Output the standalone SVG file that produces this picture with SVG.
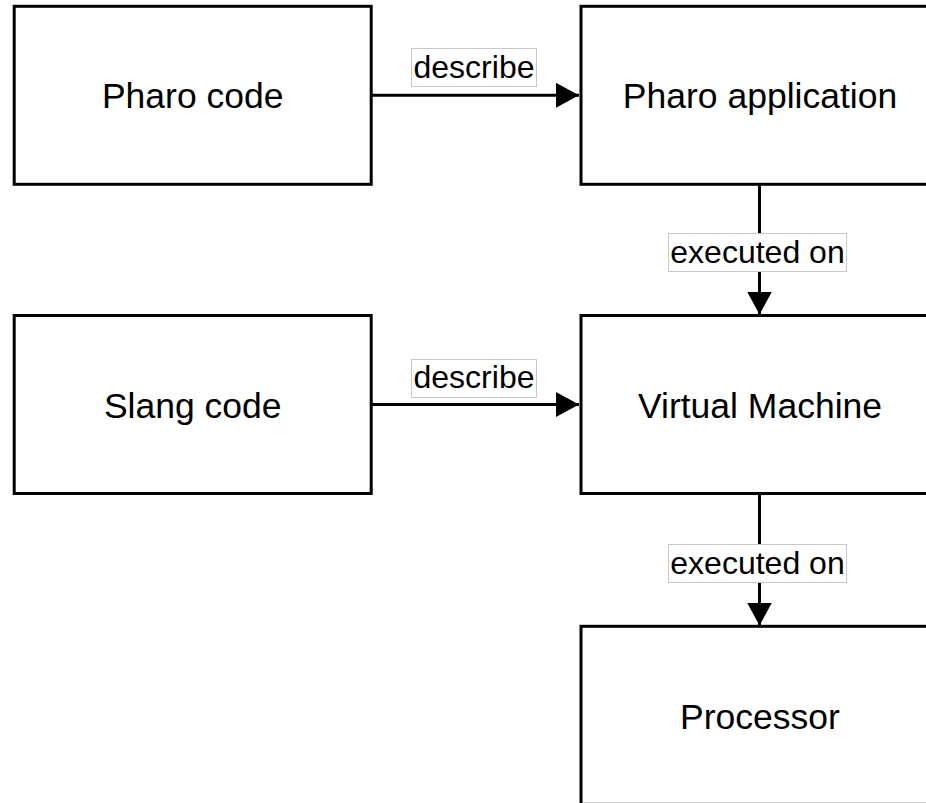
<svg xmlns="http://www.w3.org/2000/svg" width="926" height="803" viewBox="0 0 926 803">
  <defs>
    <style>
      .box { fill: #ffffff; stroke: #000000; stroke-width: 3; }
      .node-text { font-family: "Liberation Sans", Arial, Helvetica, sans-serif; font-size: 35.5px; fill: #000000; text-anchor: middle; }
      .edge { fill: none; stroke: #000000; stroke-width: 3; }
      .edge-label-bg { fill: #ffffff; stroke: #c8c8c8; stroke-width: 1; }
      .edge-label { font-family: "Liberation Sans", Arial, Helvetica, sans-serif; font-size: 32px; fill: #000000; text-anchor: middle; }
    </style>
    <marker id="arrow" viewBox="0 0 23 25" refX="23" refY="12.5" markerWidth="23" markerHeight="25" markerUnits="userSpaceOnUse" orient="auto">
      <path d="M0,0 L23,12.5 L0,25 Z" fill="#000000"/>
    </marker>
  </defs>
  <rect width="926" height="803" fill="#ffffff"/>

  <!-- connectors -->
  <g id="connectors">
    <line class="edge" x1="372" y1="95.3" x2="579" y2="95.3" marker-end="url(#arrow)"/>
    <line class="edge" x1="372" y1="404.5" x2="579" y2="404.5" marker-end="url(#arrow)"/>
    <line class="edge" x1="759.5" y1="185" x2="759.5" y2="314.5" marker-end="url(#arrow)"/>
    <line class="edge" x1="759.5" y1="495" x2="759.5" y2="625.5" marker-end="url(#arrow)"/>

    <rect class="edge-label-bg" x="411.5" y="48.5" width="125" height="38"/>
    <text class="edge-label" x="474" y="77.5">describe</text>

    <rect class="edge-label-bg" x="411.5" y="359.5" width="125" height="38"/>
    <text class="edge-label" x="474" y="387.5">describe</text>

    <rect class="edge-label-bg" x="668.5" y="233.5" width="178" height="38"/>
    <text class="edge-label" x="757.5" y="262.5">executed on</text>

    <rect class="edge-label-bg" x="668.5" y="544.5" width="178" height="38"/>
    <text class="edge-label" x="757.5" y="573.5">executed on</text>
  </g>

  <!-- nodes -->
  <g id="pharo-code">
    <rect class="box" x="14.2" y="6.3" width="357" height="178"/>
    <text class="node-text" x="192.7" y="108">Pharo code</text>
  </g>
  <g id="pharo-application">
    <rect class="box" x="581" y="6.3" width="360" height="178"/>
    <text class="node-text" x="760" y="108">Pharo application</text>
  </g>
  <g id="slang-code">
    <rect class="box" x="14.2" y="315.5" width="357" height="178"/>
    <text class="node-text" x="192.7" y="418">Slang code</text>
  </g>
  <g id="virtual-machine">
    <rect class="box" x="581" y="315.5" width="360" height="178"/>
    <text class="node-text" x="760" y="418">Virtual Machine</text>
  </g>
  <g id="processor">
    <rect class="box" x="581" y="626.3" width="360" height="178"/>
    <text class="node-text" x="760" y="729">Processor</text>
  </g>
</svg>
